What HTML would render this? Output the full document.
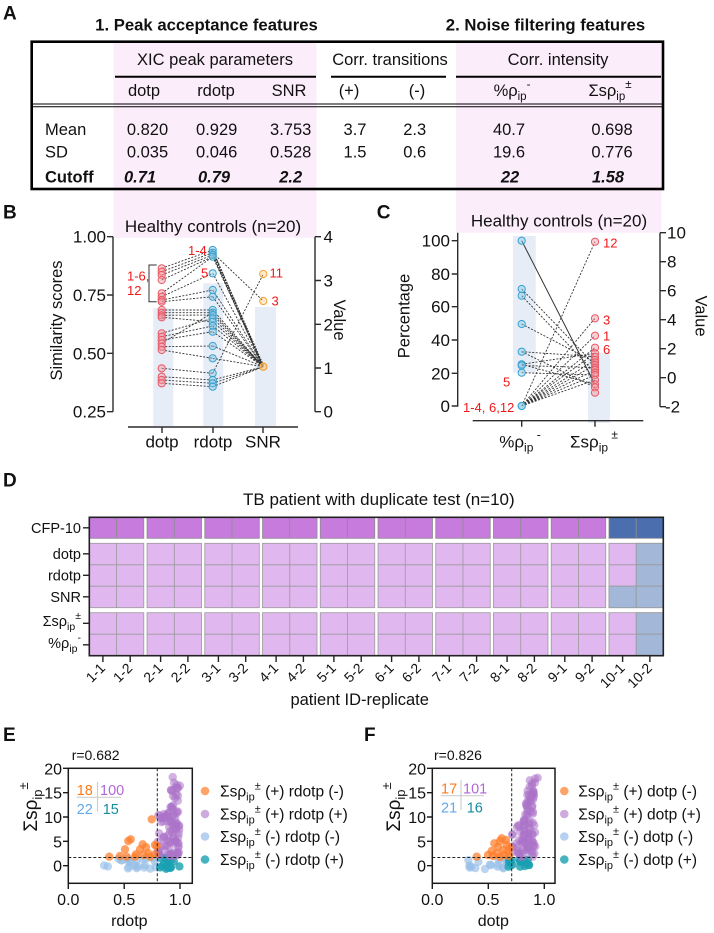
<!DOCTYPE html>
<html><head><meta charset="utf-8"><title>Figure</title>
<style>
html,body{margin:0;padding:0;background:#fff;width:714px;height:933px;overflow:hidden}
svg{display:block}
text{font-family:"Liberation Sans",Arial,sans-serif;fill:#111}
.rd{fill:#f01818}
</style></head><body>
<svg id="S" xmlns="http://www.w3.org/2000/svg" width="714" height="933" viewBox="0 0 714 933">
<defs>
<g id="hc"><rect x="0" y="0" width="54.5" height="21" fill="#c77bdc" stroke="#8c8c8c" stroke-width="0.8"/><line x1="27.25" y1="0" x2="27.25" y2="21" stroke="#8c8c8c" stroke-width="0.8"/></g>
<g id="h2"><rect x="0" y="0" width="54.5" height="64.4" fill="#e0b7ef" stroke="#9a9a9a" stroke-width="0.8"/><path d="M27.25 0V64.4M0 21.5H54.5M0 42.9H54.5" stroke="#9a9a9a" stroke-width="0.8" fill="none"/></g>
<g id="h3"><rect x="0" y="0" width="54.5" height="43" fill="#e0b7ef" stroke="#9a9a9a" stroke-width="0.8"/><path d="M27.25 0V43M0 21.5H54.5" stroke="#9a9a9a" stroke-width="0.8" fill="none"/></g>
</defs>

<!-- pink bands -->
<rect x="113.5" y="41" width="203" height="196.7" fill="#fcedfb"/>
<rect x="456" y="41" width="205.5" height="191.7" fill="#fcedfb"/>

<!-- ================= Panel A ================= -->
<text x="3" y="19.5" font-size="19" font-weight="bold">A</text>
<text x="206.5" y="30.5" font-size="16.7" font-weight="bold" text-anchor="middle">1. Peak acceptance features</text>
<text x="545.5" y="30.5" font-size="16.7" font-weight="bold" text-anchor="middle">2. Noise filtering features</text>
<rect x="31.7" y="41.7" width="631.3" height="147.3" fill="none" stroke="#000" stroke-width="2.6"/>
<g stroke="#000" stroke-width="2">
<line x1="115" y1="76.7" x2="316" y2="76.7"/>
<line x1="331" y1="76.7" x2="446" y2="76.7"/>
<line x1="456" y1="76.7" x2="661" y2="76.7"/>
</g>
<g stroke="#000" stroke-width="1">
<line x1="31.7" y1="104" x2="663" y2="104"/>
<line x1="31.7" y1="106.8" x2="663" y2="106.8"/>
</g>
<g font-size="16.5">
<text x="215" y="65" text-anchor="middle">XIC peak parameters</text>
<text x="390" y="65" text-anchor="middle">Corr. transitions</text>
<text x="558" y="65" text-anchor="middle">Corr. intensity</text>
<text x="144" y="96" text-anchor="middle">dotp</text>
<text x="216" y="96" text-anchor="middle">rdotp</text>
<text x="289" y="96" text-anchor="middle">SNR</text>
<text x="349" y="96" text-anchor="middle">(+)</text>
<text x="417" y="96" text-anchor="middle">(-)</text>
<text x="512" y="96" text-anchor="middle">%ρ<tspan dy="4" font-size="11.5">ip</tspan><tspan dy="-12" font-size="11.5">-</tspan></text>
<text x="610" y="96" text-anchor="middle">Σsρ<tspan dy="4" font-size="11.5">ip</tspan><tspan dy="-12" font-size="11.5">±</tspan></text>

<text x="45" y="135">Mean</text>
<text x="45" y="157.3">SD</text>
<text x="45" y="182.7" font-weight="bold">Cutoff</text>

<text x="147.5" y="135" text-anchor="middle">0.820</text>
<text x="216.7" y="135" text-anchor="middle">0.929</text>
<text x="290.7" y="135" text-anchor="middle">3.753</text>
<text x="355" y="135" text-anchor="middle">3.7</text>
<text x="414.7" y="135" text-anchor="middle">2.3</text>
<text x="509" y="135" text-anchor="middle">40.7</text>
<text x="612" y="135" text-anchor="middle">0.698</text>

<text x="147.5" y="157.3" text-anchor="middle">0.035</text>
<text x="216.7" y="157.3" text-anchor="middle">0.046</text>
<text x="290.7" y="157.3" text-anchor="middle">0.528</text>
<text x="355" y="157.3" text-anchor="middle">1.5</text>
<text x="414.7" y="157.3" text-anchor="middle">0.6</text>
<text x="509" y="157.3" text-anchor="middle">19.6</text>
<text x="612" y="157.3" text-anchor="middle">0.776</text>

<g font-weight="bold" font-style="italic">
<text x="140" y="182.7" text-anchor="middle">0.71</text>
<text x="214" y="182.7" text-anchor="middle">0.79</text>
<text x="290.7" y="182.7" text-anchor="middle">2.2</text>
<text x="510" y="182.7" text-anchor="middle">22</text>
<text x="608" y="182.7" text-anchor="middle">1.58</text>
</g>
</g>

<!-- ================= Panel B ================= -->
<text x="3" y="218.3" font-size="19" font-weight="bold">B</text>
<text x="213" y="232" font-size="17" text-anchor="middle">Healthy controls (n=20)</text>
<g fill="#e7edf6">
<rect x="153.3" y="308.3" width="20" height="117.7"/>
<rect x="203.3" y="283.3" width="20" height="142.7"/>
<rect x="255" y="307" width="21" height="119"/>
</g>
<g stroke="#2b2b2b" stroke-width="1.4" fill="none">
<path d="M113 236.7V411.7M107 236.7H113M107 295H113M107 353.3H113M107 411.7H113"/>
<path d="M315 236.7V411.7M315 236.7H321M315 280.5H321M315 324.3H321M315 368H321M315 411.7H321"/>
<path d="M128 427H298M162 427V433M213 427V433M263 427V433"/>
</g>
<g font-size="17">
<text x="106" y="242.7" text-anchor="end">1.00</text>
<text x="106" y="301" text-anchor="end">0.75</text>
<text x="106" y="359.3" text-anchor="end">0.50</text>
<text x="106" y="417.7" text-anchor="end">0.25</text>
<text x="323.5" y="242.7">4</text>
<text x="323.5" y="286.5">3</text>
<text x="323.5" y="330.3">2</text>
<text x="323.5" y="374">1</text>
<text x="323.5" y="417.7">0</text>
<text x="162" y="447.5" text-anchor="middle">dotp</text>
<text x="213" y="447.5" text-anchor="middle">rdotp</text>
<text x="263" y="447.5" text-anchor="middle">SNR</text>
<text transform="translate(62 320.5) rotate(-90)" text-anchor="middle" font-size="16.5">Similarity scores</text>
<text transform="translate(334 320) rotate(90)" text-anchor="middle" font-size="16.5">Value</text>
</g>
<path d="M156.7 265H149V301.7H156.7" stroke="#333" stroke-width="1" fill="none"/>
<g stroke="#333" stroke-width="0.9" stroke-dasharray="2 1.5" fill="none">
<path d="M161.7 268.3L212.7 250M161.7 271.7L212.7 252.7M161.7 275L212.7 255M161.7 280L212.7 256.7M161.7 293.3L212.7 256.7M161.7 296.7L212.7 273.3M161.7 300L212.7 290M161.7 301.7L212.7 296.7M161.7 310L212.7 310M161.7 312.7L212.7 312.7M161.7 315.3L212.7 315M161.7 317.3L212.7 321.7M161.7 333.3L212.7 318.3M161.7 336.7L212.7 326M161.7 340L212.7 331.7M161.7 343.3L212.7 312.7M161.7 346.7L212.7 346M161.7 350L212.7 358.3M161.7 368.3L212.7 373.3M161.7 376.7L212.7 380M161.7 380L212.7 383.3M161.7 383.3L212.7 386.7"/>
<path d="M212.7 250L263.3 366.7M212.7 255L263.3 366.7M212.7 256.7L263.3 366.7M212.7 273.3L263.3 366.7M212.7 290L263.3 366.7M212.7 296.7L263.3 366.7M212.7 310L263.3 366.7M212.7 312.7L263.3 366.7M212.7 315L263.3 366.7M212.7 318.3L263.3 366.7M212.7 321.7L263.3 366.7M212.7 326L263.3 366.7M212.7 331.7L263.3 366.7M212.7 346L263.3 366.7M212.7 358.3L263.3 366.7M212.7 380L263.3 366.7M212.7 383.3L263.3 366.7M212.7 386.7L263.3 366.7M212.7 373.3L263.3 274M212.7 252.7L263.3 301"/>
<path d="M213.5 254L263.3 366.7" stroke-width="2.4" stroke-dasharray="1.6 1.2"/>
</g>
<g fill="rgba(242,150,160,0.45)" stroke="#e85a66" stroke-width="1">
<circle cx="161.7" cy="268.3" r="3.6"/><circle cx="161.7" cy="271.7" r="3.6"/><circle cx="161.7" cy="275" r="3.6"/><circle cx="161.7" cy="280" r="3.6"/>
<circle cx="161.7" cy="293.3" r="3.6"/><circle cx="161.7" cy="296.7" r="3.6"/><circle cx="161.7" cy="300" r="3.6"/><circle cx="161.7" cy="301.7" r="3.6"/>
<circle cx="161.7" cy="310" r="3.6"/><circle cx="161.7" cy="312.7" r="3.6"/><circle cx="161.7" cy="315.3" r="3.6"/><circle cx="161.7" cy="317.3" r="3.6"/>
<circle cx="161.7" cy="333.3" r="3.6"/><circle cx="161.7" cy="336.7" r="3.6"/><circle cx="161.7" cy="340" r="3.6"/><circle cx="161.7" cy="343.3" r="3.6"/><circle cx="161.7" cy="346.7" r="3.6"/><circle cx="161.7" cy="350" r="3.6"/>
<circle cx="161.7" cy="368.3" r="3.6"/><circle cx="161.7" cy="376.7" r="3.6"/><circle cx="161.7" cy="380" r="3.6"/><circle cx="161.7" cy="383.3" r="3.6"/>
</g>
<g fill="rgba(140,200,230,0.45)" stroke="#35a2cf" stroke-width="1">
<circle cx="212.7" cy="250" r="3.6"/><circle cx="212.7" cy="252.7" r="3.6"/><circle cx="212.7" cy="255" r="3.6"/><circle cx="212.7" cy="256.7" r="3.6"/>
<circle cx="212.7" cy="273.3" r="3.6"/><circle cx="212.7" cy="290" r="3.6"/><circle cx="212.7" cy="296.7" r="3.6"/>
<circle cx="212.7" cy="310" r="3.6"/><circle cx="212.7" cy="312.7" r="3.6"/><circle cx="212.7" cy="315" r="3.6"/><circle cx="212.7" cy="318.3" r="3.6"/><circle cx="212.7" cy="321.7" r="3.6"/><circle cx="212.7" cy="326" r="3.6"/><circle cx="212.7" cy="331.7" r="3.6"/>
<circle cx="212.7" cy="346" r="3.6"/><circle cx="212.7" cy="358.3" r="3.6"/><circle cx="212.7" cy="373.3" r="3.6"/><circle cx="212.7" cy="380" r="3.6"/><circle cx="212.7" cy="383.3" r="3.6"/><circle cx="212.7" cy="386.7" r="3.6"/>
</g>
<g fill="rgba(250,200,130,0.4)" stroke="#f4a030" stroke-width="1">
<circle cx="263.3" cy="274" r="3.6"/><circle cx="263.3" cy="301" r="3.6"/><circle cx="263.3" cy="366.7" r="3.6"/><circle cx="263.3" cy="366.7" r="3.6"/>
</g>
<g font-size="13" class="rd">
<text class="rd" x="188" y="255">1-4</text>
<text class="rd" x="201" y="277.5">5</text>
<text class="rd" x="127" y="280.7">1-6,</text>
<text class="rd" x="127" y="295">12</text>
<text class="rd" x="269.5" y="277.5">11</text>
<text class="rd" x="271.5" y="305.5">3</text>
</g>

<!-- ================= Panel C ================= -->
<text x="376.7" y="218.3" font-size="19" font-weight="bold">C</text>
<text x="559" y="226.5" font-size="17" text-anchor="middle">Healthy controls (n=20)</text>
<g fill="#e7edf6">
<rect x="513" y="236" width="22.7" height="136.7"/>
<rect x="588" y="352.7" width="22" height="70.3"/>
</g>
<g stroke="#2b2b2b" stroke-width="1.4" fill="none">
<path d="M457.7 232.7V406.7M451.7 240.7H457.7M451.7 274H457.7M451.7 306.7H457.7M451.7 340H457.7M451.7 373.3H457.7M451.7 406H457.7"/>
<path d="M660 232.7V406.7M660 232.7H666M660 261.7H666M660 290.7H666M660 319.7H666M660 348.7H666M660 377.7H666M660 406.7H666"/>
<path d="M472.7 420.7H643.3M521.7 420.7V426.7M595 420.7V426.7"/>
</g>
<g font-size="17">
<text x="450" y="246.7" text-anchor="end">100</text>
<text x="450" y="280" text-anchor="end">80</text>
<text x="450" y="312.7" text-anchor="end">60</text>
<text x="450" y="346" text-anchor="end">40</text>
<text x="450" y="379.3" text-anchor="end">20</text>
<text x="450" y="412" text-anchor="end">0</text>
<text x="667" y="238.7">10</text>
<text x="667" y="267.7">8</text>
<text x="667" y="296.7">6</text>
<text x="667" y="325.7">4</text>
<text x="667" y="354.7">2</text>
<text x="667" y="383.7">0</text>
<text x="665" y="412.7">-2</text>
<text x="520" y="447.5" text-anchor="middle">%ρ<tspan dy="4" font-size="12">ip</tspan><tspan dy="-13" font-size="12"> -</tspan></text>
<text x="594" y="447.5" text-anchor="middle">Σsρ<tspan dy="4" font-size="12">ip</tspan><tspan dy="-13" font-size="12"> ±</tspan></text>
<text transform="translate(409.5 316) rotate(-90)" text-anchor="middle" font-size="16.5">Percentage</text>
<text transform="translate(695.5 316) rotate(90)" text-anchor="middle" font-size="16.5">Value</text>
</g>
<path d="M521.7 240.7L595 384.3" stroke="#333" stroke-width="1" fill="none"/>
<g stroke="#333" stroke-width="0.9" stroke-dasharray="2 1.5" fill="none">
<path d="M521.7 406L595 241.7M521.7 406L595 318.3M521.7 406L595 335.7M521.7 406L595 347.7M521.7 406L595 353.3M521.7 406L595 360M521.7 406L595 365M521.7 406L595 370M521.7 406L595 375M521.7 406L595 380"/>
<path d="M521.7 289L595 365M521.7 295.7L595 372.7M521.7 324L595 362.3M521.7 351.7L595 356.7M521.7 364.3L595 353.3M521.7 365.5L595 367.7M521.7 372.7L595 375M521.7 364.3L595 384.3M521.7 351.7L595 387.3"/>
</g>
<g fill="rgba(140,200,230,0.45)" stroke="#35a2cf" stroke-width="1">
<circle cx="521.7" cy="240.7" r="3.6"/><circle cx="521.7" cy="289" r="3.6"/><circle cx="521.7" cy="295.7" r="3.6"/><circle cx="521.7" cy="324" r="3.6"/><circle cx="521.7" cy="351.7" r="3.6"/><circle cx="521.7" cy="364.3" r="3.6"/><circle cx="521.7" cy="365.5" r="3.6"/><circle cx="521.7" cy="372.7" r="3.6"/><circle cx="521.7" cy="406" r="3.6"/><circle cx="521.7" cy="406" r="3.6"/>
</g>
<g fill="rgba(242,150,160,0.45)" stroke="#e85a66" stroke-width="1">
<circle cx="595" cy="241.7" r="3.6"/><circle cx="595" cy="318.3" r="3.6"/><circle cx="595" cy="335.7" r="3.6"/><circle cx="595" cy="347.7" r="3.6"/><circle cx="595" cy="353.3" r="3.6"/><circle cx="595" cy="356.7" r="3.6"/><circle cx="595" cy="360" r="3.6"/><circle cx="595" cy="362.3" r="3.6"/><circle cx="595" cy="365" r="3.6"/><circle cx="595" cy="367.7" r="3.6"/><circle cx="595" cy="370" r="3.6"/><circle cx="595" cy="372.7" r="3.6"/><circle cx="595" cy="375" r="3.6"/><circle cx="595" cy="380" r="3.6"/><circle cx="595" cy="384.3" r="3.6"/><circle cx="595" cy="387.3" r="3.6"/><circle cx="595" cy="392.7" r="3.6"/>
</g>
<g font-size="13">
<text class="rd" x="603" y="247.4">12</text>
<text class="rd" x="603" y="324.7">3</text>
<text class="rd" x="603" y="340.5">1</text>
<text class="rd" x="603" y="354">6</text>
<text class="rd" x="503" y="386.4">5</text>
<text class="rd" x="463" y="412">1-4, 6,12</text>
</g>

<!-- ================= Panel D ================= -->
<text x="3" y="486.7" font-size="19" font-weight="bold">D</text>
<text x="243" y="505" font-size="17">TB patient with duplicate test (n=10)</text>

<use href="#hc" x="89.3" y="517.3"/><use href="#h2" x="89.3" y="543.3"/><use href="#h3" x="89.3" y="612.7"/>
<use href="#hc" x="147.04" y="517.3"/><use href="#h2" x="147.04" y="543.3"/><use href="#h3" x="147.04" y="612.7"/>
<use href="#hc" x="204.78" y="517.3"/><use href="#h2" x="204.78" y="543.3"/><use href="#h3" x="204.78" y="612.7"/>
<use href="#hc" x="262.52" y="517.3"/><use href="#h2" x="262.52" y="543.3"/><use href="#h3" x="262.52" y="612.7"/>
<use href="#hc" x="320.26" y="517.3"/><use href="#h2" x="320.26" y="543.3"/><use href="#h3" x="320.26" y="612.7"/>
<use href="#hc" x="378" y="517.3"/><use href="#h2" x="378" y="543.3"/><use href="#h3" x="378" y="612.7"/>
<use href="#hc" x="435.74" y="517.3"/><use href="#h2" x="435.74" y="543.3"/><use href="#h3" x="435.74" y="612.7"/>
<use href="#hc" x="493.48" y="517.3"/><use href="#h2" x="493.48" y="543.3"/><use href="#h3" x="493.48" y="612.7"/>
<use href="#hc" x="551.22" y="517.3"/><use href="#h2" x="551.22" y="543.3"/><use href="#h3" x="551.22" y="612.7"/>
<!-- patient 10 -->
<g stroke="#8c8c8c" stroke-width="0.8">
<rect x="608.96" y="517.3" width="27.25" height="21" fill="#4b6eae"/>
<rect x="636.21" y="517.3" width="27.25" height="21" fill="#4b6eae"/>
</g>
<use href="#h2" x="608.96" y="543.3"/><use href="#h3" x="608.96" y="612.7"/>
<g stroke="#9a9a9a" stroke-width="0.8" fill="#a3b7d9">
<rect x="608.96" y="586.2" width="27.25" height="21.5"/>
<rect x="636.21" y="543.3" width="27.25" height="21.5"/>
<rect x="636.21" y="564.8" width="27.25" height="21.4"/>
<rect x="636.21" y="586.2" width="27.25" height="21.5"/>
<rect x="636.21" y="612.7" width="27.25" height="21.5"/>
<rect x="636.21" y="634.2" width="27.25" height="21.5"/>
</g>
<rect x="89.3" y="517.3" width="574" height="138.4" fill="none" stroke="#222" stroke-width="1.6"/>
<g stroke="#222" stroke-width="1.4" fill="none">
<path d="M83 527.8H89.3M83 553.8H89.3M83 575.3H89.3M83 596.8H89.3M83 623.3H89.3M83 644.8H89.3"/>
<path d="M102.9 655.7V662M130.2 655.7V662M160.6 655.7V662M187.9 655.7V662M218.4 655.7V662M245.7 655.7V662M276.1 655.7V662M303.4 655.7V662M333.9 655.7V662M361.2 655.7V662M391.6 655.7V662M418.9 655.7V662M449.3 655.7V662M476.6 655.7V662M507.1 655.7V662M534.4 655.7V662M564.8 655.7V662M592.1 655.7V662M622.6 655.7V662M649.9 655.7V662"/>
</g>
<g font-size="14.5">
<text x="81" y="533" text-anchor="end">CFP-10</text>
<text x="81" y="559" text-anchor="end">dotp</text>
<text x="81" y="580.5" text-anchor="end">rdotp</text>
<text x="81" y="602" text-anchor="end">SNR</text>
<text x="81" y="626" text-anchor="end">Σsρ<tspan dy="4" font-size="10.5">ip</tspan><tspan dy="-11" font-size="10.5">±</tspan></text>
<text x="81" y="648" text-anchor="end">%ρ<tspan dy="4" font-size="10.5">ip</tspan><tspan dy="-11" font-size="10.5">-</tspan></text>
</g>
<g font-size="14" text-anchor="end">
<text transform="translate(106 669) rotate(-45)">1-1</text>
<text transform="translate(133.2 669) rotate(-45)">1-2</text>
<text transform="translate(163.6 669) rotate(-45)">2-1</text>
<text transform="translate(190.9 669) rotate(-45)">2-2</text>
<text transform="translate(221.4 669) rotate(-45)">3-1</text>
<text transform="translate(248.7 669) rotate(-45)">3-2</text>
<text transform="translate(279.1 669) rotate(-45)">4-1</text>
<text transform="translate(306.4 669) rotate(-45)">4-2</text>
<text transform="translate(336.9 669) rotate(-45)">5-1</text>
<text transform="translate(364.2 669) rotate(-45)">5-2</text>
<text transform="translate(394.6 669) rotate(-45)">6-1</text>
<text transform="translate(421.9 669) rotate(-45)">6-2</text>
<text transform="translate(452.3 669) rotate(-45)">7-1</text>
<text transform="translate(479.6 669) rotate(-45)">7-2</text>
<text transform="translate(510.1 669) rotate(-45)">8-1</text>
<text transform="translate(537.4 669) rotate(-45)">8-2</text>
<text transform="translate(567.8 669) rotate(-45)">9-1</text>
<text transform="translate(595.1 669) rotate(-45)">9-2</text>
<text transform="translate(625.6 669) rotate(-45)">10-1</text>
<text transform="translate(652.9 669) rotate(-45)">10-2</text>
</g>
<text x="359.7" y="705" font-size="16.5" text-anchor="middle">patient ID-replicate</text>

<!-- ================= Panel E ================= -->
<text x="3" y="741" font-size="19" font-weight="bold">E</text>
<text x="71.7" y="760" font-size="14">r=0.682</text>
<g id="ptsE"></g>
<g stroke="#222" stroke-width="1" stroke-dasharray="3 2" fill="none">
<path d="M157.3 768.3V883.3M68.3 857.5H192.3"/>
</g>
<rect x="68.3" y="768.3" width="124" height="115" fill="none" stroke="#1a1a1a" stroke-width="1.5"/>
<g stroke="#1a1a1a" stroke-width="1.4" fill="none">
<path d="M63 768.3H68.3M63 792.7H68.3M63 817H68.3M63 841.3H68.3M63 865.7H68.3M68.3 883.3V889M124.2 883.3V889M180 883.3V889"/>
</g>
<g stroke="#cfcfcf" stroke-width="1.2"><path d="M76.7 797.3H121M97.5 781.7V811.7"/></g>
<g font-size="14.5">
<text x="76.7" y="795" fill="#ff7a1a" style="fill:#ff7a1a">18</text>
<text x="100" y="795" style="fill:#b266d8">100</text>
<text x="76.7" y="814" style="fill:#62a8ea">22</text>
<text x="102.7" y="814" style="fill:#168c9e">15</text>
</g>
<g font-size="16">
<text x="62" y="774.3" text-anchor="end">20</text>
<text x="62" y="798.7" text-anchor="end">15</text>
<text x="62" y="823" text-anchor="end">10</text>
<text x="62" y="847.3" text-anchor="end">5</text>
<text x="62" y="871.7" text-anchor="end">0</text>
<text x="68.3" y="905" text-anchor="middle">0.0</text>
<text x="124.2" y="905" text-anchor="middle">0.5</text>
<text x="180" y="905" text-anchor="middle">1.0</text>
<text x="129.3" y="926" text-anchor="middle">rdotp</text>
</g>
<text transform="translate(37 807) rotate(-90)" text-anchor="middle" font-size="19">Σsρ<tspan dy="5" font-size="13">ip</tspan><tspan dy="-14" font-size="13">±</tspan></text>
<g>
<circle cx="205" cy="791" r="4.3" fill="rgba(255,125,40,0.7)"/>
<circle cx="205" cy="814" r="4.3" fill="rgba(172,115,200,0.6)"/>
<circle cx="205" cy="836.5" r="4.3" fill="rgba(150,190,232,0.7)"/>
<circle cx="205" cy="859.5" r="4.3" fill="rgba(25,160,178,0.8)"/>
</g>
<g font-size="15.5">
<text x="220" y="796.5">Σsρ<tspan dy="4" font-size="11">ip</tspan><tspan dy="-11" font-size="11">±</tspan><tspan dy="7"> (+) rdotp (-)</tspan></text>
<text x="220" y="819.5">Σsρ<tspan dy="4" font-size="11">ip</tspan><tspan dy="-11" font-size="11">±</tspan><tspan dy="7"> (+) rdotp (+)</tspan></text>
<text x="220" y="842">Σsρ<tspan dy="4" font-size="11">ip</tspan><tspan dy="-11" font-size="11">±</tspan><tspan dy="7"> (-) rdotp (-)</tspan></text>
<text x="220" y="865">Σsρ<tspan dy="4" font-size="11">ip</tspan><tspan dy="-11" font-size="11">±</tspan><tspan dy="7"> (-) rdotp (+)</tspan></text>
</g>

<!-- ================= Panel F ================= -->
<text x="364" y="741" font-size="19" font-weight="bold">F</text>
<text x="434" y="760" font-size="14">r=0.826</text>
<g id="ptsF"></g>
<g stroke="#222" stroke-width="1" stroke-dasharray="3 2" fill="none">
<path d="M511.7 768.3V883.3M432.3 857.5H555"/>
</g>
<rect x="432.3" y="768.3" width="122.7" height="115" fill="none" stroke="#1a1a1a" stroke-width="1.5"/>
<g stroke="#1a1a1a" stroke-width="1.4" fill="none">
<path d="M427 768.3H432.3M427 792.7H432.3M427 817H432.3M427 841.3H432.3M427 865.7H432.3M432.3 883.3V889M488.3 883.3V889M544.3 883.3V889"/>
</g>
<g stroke="#cfcfcf" stroke-width="1.2"><path d="M441 795.7H484M461 780V810"/></g>
<g font-size="14.5">
<text x="441" y="793.5" style="fill:#ff7a1a">17</text>
<text x="463" y="793.5" style="fill:#b266d8">101</text>
<text x="441" y="812.5" style="fill:#62a8ea">21</text>
<text x="466.7" y="812.5" style="fill:#168c9e">16</text>
</g>
<g font-size="16">
<text x="426" y="774.3" text-anchor="end">20</text>
<text x="426" y="798.7" text-anchor="end">15</text>
<text x="426" y="823" text-anchor="end">10</text>
<text x="426" y="847.3" text-anchor="end">5</text>
<text x="426" y="871.7" text-anchor="end">0</text>
<text x="432.3" y="905" text-anchor="middle">0.0</text>
<text x="488.3" y="905" text-anchor="middle">0.5</text>
<text x="544.3" y="905" text-anchor="middle">1.0</text>
<text x="493.3" y="926" text-anchor="middle">dotp</text>
</g>
<text transform="translate(400 807) rotate(-90)" text-anchor="middle" font-size="19">Σsρ<tspan dy="5" font-size="13">ip</tspan><tspan dy="-14" font-size="13">±</tspan></text>
<g>
<circle cx="564.3" cy="791" r="4.3" fill="rgba(255,125,40,0.7)"/>
<circle cx="564.3" cy="814" r="4.3" fill="rgba(172,115,200,0.6)"/>
<circle cx="564.3" cy="836.5" r="4.3" fill="rgba(150,190,232,0.7)"/>
<circle cx="564.3" cy="859.5" r="4.3" fill="rgba(25,160,178,0.8)"/>
</g>
<g font-size="15.5">
<text x="578.3" y="796.5">Σsρ<tspan dy="4" font-size="11">ip</tspan><tspan dy="-11" font-size="11">±</tspan><tspan dy="7"> (+) dotp (-)</tspan></text>
<text x="578.3" y="819.5">Σsρ<tspan dy="4" font-size="11">ip</tspan><tspan dy="-11" font-size="11">±</tspan><tspan dy="7"> (+) dotp (+)</tspan></text>
<text x="578.3" y="842">Σsρ<tspan dy="4" font-size="11">ip</tspan><tspan dy="-11" font-size="11">±</tspan><tspan dy="7"> (-) dotp (-)</tspan></text>
<text x="578.3" y="865">Σsρ<tspan dy="4" font-size="11">ip</tspan><tspan dy="-11" font-size="11">±</tspan><tspan dy="7"> (-) dotp (+)</tspan></text>
</g>
</svg>
<script>
(function(){
var NS='http://www.w3.org/2000/svg';
function mb(a){return function(){a|=0;a=a+0x6D2B79F5|0;var t=Math.imul(a^a>>>15,1|a);t=t+Math.imul(t^t>>>7,61|t)^t;return((t^t>>>14)>>>0)/4294967296;};}
var R=mb(12345);
var LB='rgba(150,190,232,0.65)',TE='rgba(25,160,178,0.8)',OR='rgba(255,125,40,0.72)',PU='rgba(172,115,200,0.55)';
function c(g,x,y,col){var e=document.createElementNS(NS,'circle');e.setAttribute('cx',x.toFixed(1));e.setAttribute('cy',y.toFixed(1));e.setAttribute('r','4.2');e.setAttribute('fill',col);g.appendChild(e);}
var i,t;
var gE=document.getElementById('ptsE');
for(i=0;i<22;i++)c(gE,104+R()*52,858+R()*11,LB);
for(i=0;i<15;i++)c(gE,158+R()*22,858+R()*11,TE);
for(i=0;i<60;i++){t=R();c(gE,171+R()*9.5-t*1.5,777+t*80,PU);}
for(i=0;i<40;i++){c(gE,157.5+R()*15,812+R()*45,PU);}
[[151.7,819.3],[130.7,839.3],[125,849.3],[109.3,856.7],[136,854.3],[140,849.3],[146,847.3],[148.3,853.3],[155,854.3],[156.7,846],[135,856.7],[143.3,855],[150,856.7],[128.3,841],[142.7,844.3],[155,845],[126.7,856.7],[120,856]].forEach(function(p){c(gE,p[0],p[1],OR);});
var gF=document.getElementById('ptsF');
for(i=0;i<21;i++)c(gF,468+R()*43,859+R()*10,LB);
for(i=0;i<16;i++)c(gF,508+R()*22,857+R()*11,TE);
for(i=0;i<45;i++){t=R();c(gF,529+R()*9-t*8,777+t*58,PU);}
for(i=0;i<56;i++){c(gF,512+R()*24,822+R()*35,PU);}
[[476.7,856.7],[491.7,851],[494.3,843.3],[500,841],[501.7,838.3],[496.7,853.3],[503.3,850],[506.7,845],[508.3,851.7],[510,847.7],[498,847],[504,855],[509,856],[493,856],[500,857],[506,840],[488,855]].forEach(function(p){c(gF,p[0],p[1],OR);});
})();
</script>
</body></html>
